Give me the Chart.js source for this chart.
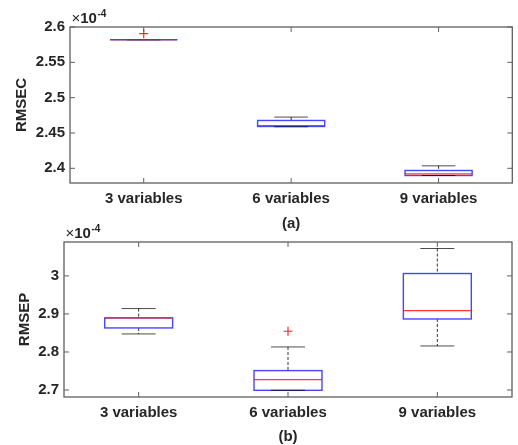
<!DOCTYPE html>
<html><head><meta charset="utf-8">
<script src="https://cdn.jsdelivr.net/npm/chart.js@4"></script>
<style>
html,body{margin:0;padding:0;background:#fff;}
#wrap{position:relative;width:518px;height:445px;background:#fff;}
canvas{position:absolute;left:0;}
</style></head>
<body><div id="wrap">
<canvas id="cA" width="518" height="232" style="top:0"></canvas>
<canvas id="cB" width="518" height="233" style="top:212px"></canvas>
</div>
<script>
// Values are in units of 1e-4 (axis multiplier shown as ×10^-4)
const categories = ['3 variables', '6 variables', '9 variables'];

// (a) RMSEC box statistics
const rmsecLowerWhisker = [2.582, 2.4588, 2.3898];
const rmsecQ1           = [2.582, 2.4592, 2.3898];
const rmsecMedian       = [2.582, 2.4606, 2.3922];
const rmsecQ3           = [2.582, 2.4677, 2.3969];
const rmsecUpperWhisker = [2.582, 2.4725, 2.4035];
const rmsecOutliers     = [2.5905, null, null];
const rmsecTicks        = [2.4, 2.45, 2.5, 2.55, 2.6];
const rmsecTickLabels   = ['2.4', '2.45', '2.5', '2.55', '2.6'];
const rmsecRange        = [2.3792, 2.6];

// (b) RMSEP box statistics
const rmsepLowerWhisker = [2.8474, 2.6992, 2.8158];
const rmsepQ1           = [2.8632, 2.6992, 2.8868];
const rmsepMedian       = [2.8895, 2.7274, 2.9089];
const rmsepQ3           = [2.8895, 2.7510, 3.0063];
const rmsepUpperWhisker = [2.9142, 2.8132, 3.0721];
const rmsepOutliers     = [null, 2.8545, null];
const rmsepTicks        = [2.7, 2.8, 2.9, 3];
const rmsepTickLabels   = ['2.7', '2.8', '2.9', '3'];
const rmsepRange        = [2.6816, 3.0892];

const FONT = "'Liberation Sans', Arial, Helvetica, sans-serif";
const TXT = '#262626';
const AX = '#5f5f5f';

function line(ctx, x1, y1, x2, y2) {
  ctx.beginPath(); ctx.moveTo(x1, y1); ctx.lineTo(x2, y2); ctx.stroke();
}

const boxPlot = {
  id: 'boxPlot',
  beforeDatasetsDraw(chart, args, o) {
    const {ctx, chartArea: a, scales: {x, y}} = chart;
    ctx.save();
    ctx.beginPath(); ctx.rect(a.left, a.top, a.right - a.left, a.bottom - a.top); ctx.clip();
    const step = x.getPixelForValue(1) - x.getPixelForValue(0);
    const hw = step * o.boxWidth / 2, cw = hw / 2;
    o.med.forEach((m, i) => {
      const cx = x.getPixelForValue(i);
      const pLo = y.getPixelForValue(o.lo[i]);
      const pQ1 = y.getPixelForValue(o.q1[i]);
      const pMed = y.getPixelForValue(m);
      const pQ3 = y.getPixelForValue(o.q3[i]);
      const pHi = y.getPixelForValue(o.hi[i]);
      ctx.strokeStyle = '#333'; ctx.lineWidth = 1; ctx.setLineDash([3, 2]);
      if (pHi < pQ3) line(ctx, cx, pHi, cx, pQ3);
      if (pLo > pQ1) line(ctx, cx, pQ1, cx, pLo);
      ctx.setLineDash([]);
      ctx.strokeStyle = '#4646ff'; ctx.lineWidth = 1.4;
      ctx.strokeRect(cx - hw, pQ3, 2 * hw, pQ1 - pQ3);
      ctx.strokeStyle = 'rgba(0,0,0,0.7)'; ctx.lineWidth = 1;
      line(ctx, cx - cw, pHi, cx + cw, pHi);
      line(ctx, cx - cw, pLo, cx + cw, pLo);
      ctx.strokeStyle = 'rgba(255,20,20,0.85)'; ctx.lineWidth = 1.2;
      line(ctx, cx - hw, pMed, cx + hw, pMed);
    });
    ctx.restore();
  },
  afterDraw(chart, args, o) {
    const {ctx, chartArea: a, scales: {x, y}} = chart;
    ctx.save();
    ctx.strokeStyle = AX; ctx.lineWidth = 1.3;
    ctx.strokeRect(a.left, a.top, a.right - a.left, a.bottom - a.top);
    ctx.lineWidth = 1;
    categories.forEach((c, i) => {
      const px = x.getPixelForValue(i);
      line(ctx, px, a.bottom, px, a.bottom - 5);
      line(ctx, px, a.top, px, a.top + 5);
    });
    y.ticks.forEach(t => {
      const py = y.getPixelForValue(t.value);
      line(ctx, a.left, py, a.left + 5, py);
      line(ctx, a.right, py, a.right - 5, py);
    });
    // exponent multiplier
    ctx.fillStyle = TXT; ctx.textBaseline = 'alphabetic'; ctx.textAlign = 'left';
    let tx = a.left + 1.5;
    const by = a.top - 4;
    ctx.font = '15px ' + FONT;
    ctx.fillText('\u00d7', tx, by); tx += ctx.measureText('\u00d7').width;
    ctx.font = 'bold 15px ' + FONT;
    ctx.fillText('10', tx, by); tx += ctx.measureText('10').width;
    ctx.font = 'bold 10px ' + FONT;
    ctx.fillText('-4', tx + 0.5, by - 6);
    ctx.restore();
  }
};

function makeChart(id, s) {
  return new Chart(document.getElementById(id), {
    type: 'line',
    data: {
      labels: categories,
      datasets: [{
        data: s.out, showLine: false, pointStyle: 'cross', pointRadius: 4.5,
        pointBorderColor: '#ff2a2a', pointBackgroundColor: '#ff2a2a', pointBorderWidth: 1.2,
        borderColor: '#ff2a2a', clip: false
      }]
    },
    options: {
      responsive: false, animation: false, events: [],
      layout: {padding: s.padding},
      plugins: {
        legend: {display: false}, tooltip: {enabled: false},
        boxPlot: {lo: s.lo, q1: s.q1, med: s.med, q3: s.q3, hi: s.hi, boxWidth: 0.455}
      },
      scales: {
        x: {
          type: 'category', offset: true,
          grid: {display: false, drawTicks: false}, border: {display: false},
          ticks: {font: {family: FONT, size: 15, weight: 'bold'}, color: TXT, padding: 7, maxRotation: 0, autoSkip: false},
          title: {display: true, text: s.xTitle, color: TXT, font: {family: FONT, size: 15, weight: 'bold', lineHeight: 1}, padding: {top: 0, bottom: 0.5}},
          afterFit(sc) { sc.height = s.xHeight; }
        },
        y: {
          type: 'linear', min: s.range[0], max: s.range[1],
          grid: {display: false, drawTicks: false}, border: {display: false},
          afterBuildTicks(sc) { sc.ticks = s.ticks.map(v => ({value: v})); },
          ticks: {font: {family: FONT, size: 15, weight: 'bold'}, color: TXT, padding: 5,
                  callback: (v, i) => s.tickLabels[i]},
          title: {display: true, text: s.yTitle, color: TXT, font: {family: FONT, size: 15, weight: 'bold', lineHeight: 1}, padding: {top: s.yTitleOffset, bottom: 0}},
          afterFit(sc) { sc.width = s.yWidth; }
        }
      }
    },
    plugins: [boxPlot]
  });
}

makeChart('cA', {
  lo: rmsecLowerWhisker, q1: rmsecQ1, med: rmsecMedian, q3: rmsecQ3, hi: rmsecUpperWhisker,
  out: rmsecOutliers, ticks: rmsecTicks, tickLabels: rmsecTickLabels, range: rmsecRange,
  xTitle: '(a)', yTitle: 'RMSEC', padding: {top: 27, right: 3, bottom: 0, left: 0},
  xHeight: 49, yWidth: 70, yTitleOffset: 14
});
makeChart('cB', {
  lo: rmsepLowerWhisker, q1: rmsepQ1, med: rmsepMedian, q3: rmsepQ3, hi: rmsepUpperWhisker,
  out: rmsepOutliers, ticks: rmsepTicks, tickLabels: rmsepTickLabels, range: rmsepRange,
  xTitle: '(b)', yTitle: 'RMSEP', padding: {top: 30, right: 6, bottom: 0, left: 0},
  xHeight: 48, yWidth: 64, yTitleOffset: 17.5
});
</script>
</body></html>
